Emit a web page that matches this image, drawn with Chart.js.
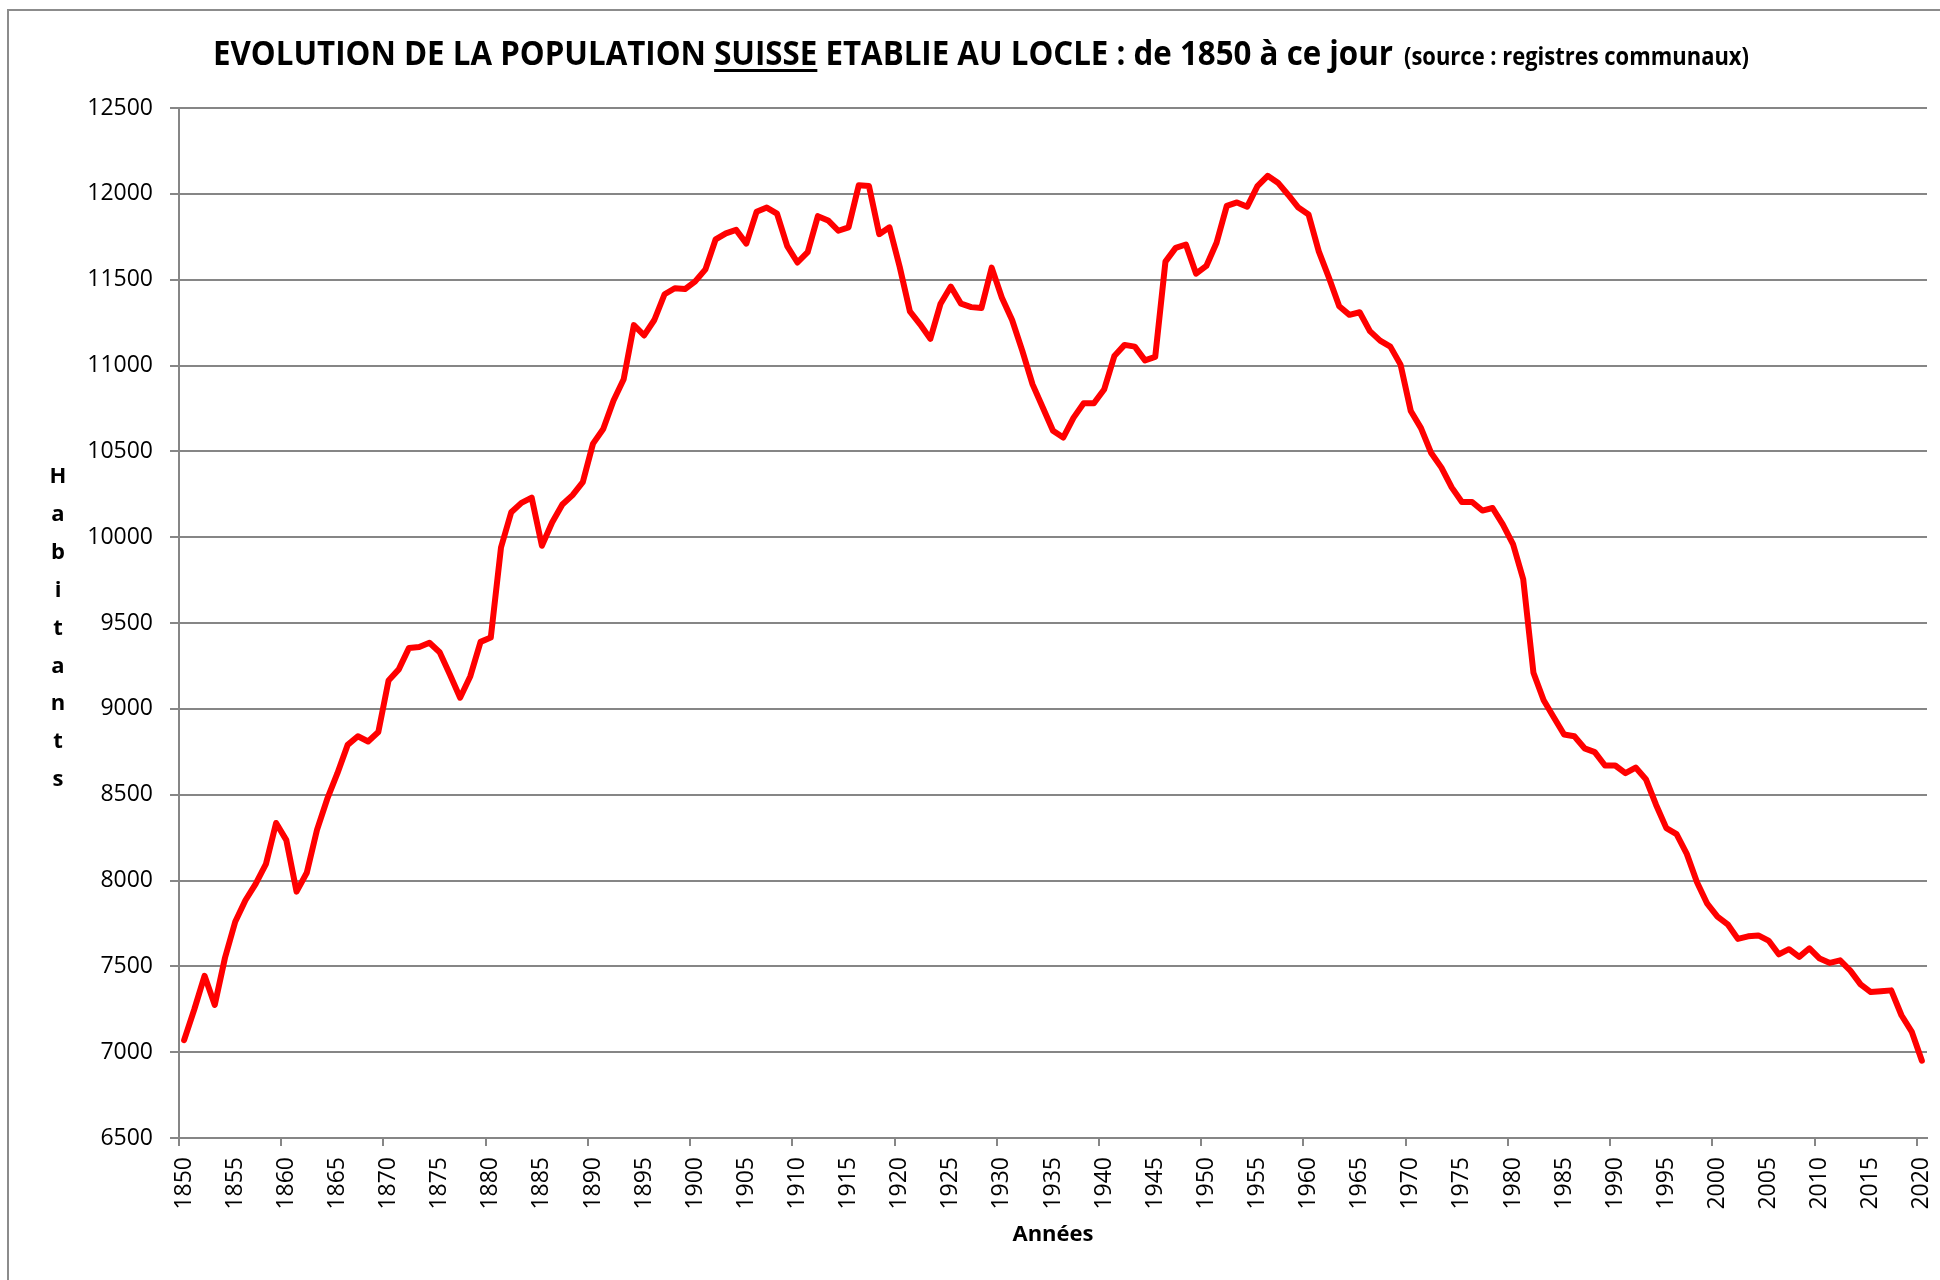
<!DOCTYPE html>
<html>
<head>
<meta charset="utf-8">
<title>Population suisse au Locle</title>
<script src="https://cdn.jsdelivr.net/npm/chart.js@4.4.1/dist/chart.umd.min.js"></script>
<style>
    html, body { margin: 0; padding: 0; background: #fff; overflow: hidden; }
    #wrap { position: relative; width: 1940px; height: 1280px; overflow: hidden; }
    #frame { position: absolute; left: 7px; top: 9px; width: 2100px; height: 1400px;
             border-left: 2px solid #8c8c8c; border-top: 2px solid #8c8c8c; }
    #population { position: absolute; left: 0; top: 0; }
    .titre { position: absolute; white-space: nowrap; font-family: "Open Sans", sans-serif;
             font-weight: bold; color: #000; line-height: 40px; transform-origin: 0 0; }
    #titre-main { left: 213px; top: 32px; font-size: 34px; }
    #titre-src { left: 1404px; top: 35px; font-size: 25px; }
    #titre-main u { text-decoration-thickness: 3px; text-underline-offset: 4px; }
    #habitants { position: absolute; left: 38px; top: 456px; width: 40px; text-align: center;
                 font-family: "Open Sans", sans-serif; font-weight: bold; font-size: 22px;
                 line-height: 37.9px; color: #000; }
</style>
</head>
<body>
<div id="wrap">
    <div id="frame"></div>
    <canvas id="population" width="1940" height="1280"></canvas>
    <div class="titre" id="titre-main">EVOLUTION DE LA POPULATION <u>SUISSE</u> ETABLIE AU LOCLE : de 1850 à ce jour</div>
    <div class="titre" id="titre-src">(source : registres communaux)</div>
    <div id="habitants">H<br>a<br>b<br>i<br>t<br>a<br>n<br>t<br>s</div>
</div>
<script>
    // annees 1850 -> 2020, une valeur par annee
    const firstYear = 1850
    const lastYear = 2020
    const years = Array.from({length: lastYear - firstYear + 1}, (_, i) => String(firstYear + i))

    const habitants = [
        7070, 7250, 7445, 7275, 7550, 7760, 7885, 7980, 8095, 8335,       // 1850
        8235, 7935, 8045, 8295, 8475, 8625, 8790, 8840, 8810, 8865,       // 1860
        9165, 9230, 9355, 9360, 9385, 9330, 9200, 9065, 9190, 9390,       // 1870
        9415, 9940, 10145, 10200, 10230, 9950, 10085, 10190, 10245, 10320, // 1880
        10545, 10630, 10795, 10920, 11235, 11175, 11265, 11415, 11450, 11445, // 1890
        11490, 11560, 11735, 11770, 11790, 11710, 11895, 11920, 11885, 11695, // 1900
        11600, 11660, 11870, 11845, 11785, 11805, 12050, 12045, 11765, 11805, // 1910
        11575, 11315, 11240, 11155, 11360, 11460, 11360, 11340, 11335, 11570, // 1920
        11395, 11265, 11085, 10890, 10755, 10620, 10580, 10695, 10780, 10780, // 1930
        10860, 11055, 11120, 11110, 11030, 11050, 11605, 11685, 11705, 11535, // 1940
        11580, 11715, 11930, 11950, 11925, 12045, 12105, 12065, 11995, 11920, // 1950
        11880, 11665, 11510, 11345, 11295, 11310, 11200, 11145, 11110, 11005, // 1960
        10735, 10635, 10490, 10405, 10290, 10205, 10205, 10155, 10170, 10075, // 1970
        9960, 9755, 9210, 9050, 8950, 8850, 8840, 8770, 8748, 8670,       // 1980
        8670, 8625, 8658, 8590, 8440, 8305, 8270, 8155, 7990, 7865,       // 1990
        7790, 7745, 7660, 7675, 7680, 7650, 7570, 7600, 7555, 7605,       // 2000
        7545, 7520, 7535, 7475, 7395, 7350, 7355, 7360, 7215, 7120,       // 2010
        6950                                                              // 2020
    ]

    const yMin = 6500
    const yMax = 12500
    const yStep = 500

    const gris = '#868686'
    const police = '"Open Sans", sans-serif'

    const data = {
        labels: years,
        datasets: [{
            label: 'Habitants',
            data: habitants,
            borderColor: '#ff0000',
            backgroundColor: '#ff0000',
            borderWidth: 6,
            pointRadius: 0,
            tension: 0,
            borderJoinStyle: 'round',
            borderCapStyle: 'round',
            fill: false
        }]
    }

    const config = {
        type: 'line',
        data: data,
        options: {
            responsive: false,
            animation: false,
            devicePixelRatio: 1,
            layout: { padding: { left: 0, right: 13, top: 108, bottom: 0 } },
            plugins: {
                legend: { display: false },
                title: { display: false },
                tooltip: { enabled: false }
            },
            scales: {
                x: {
                    type: 'category',
                    offset: true,
                    grid: {
                        display: true,
                        offset: true,
                        drawOnChartArea: false,
                        drawTicks: true,
                        tickLength: 8,
                        lineWidth: 2,
                        color: (ctx) => {
                            if (ctx.index === undefined || ctx.index >= years.length) return 'rgba(0,0,0,0)'
                            return Number(years[ctx.index]) % 10 === 0 ? gris : 'rgba(0,0,0,0)'
                        }
                    },
                    border: { display: true, color: gris, width: 2 },
                    ticks: {
                        autoSkip: false,
                        maxRotation: 90,
                        minRotation: 90,
                        padding: 11,
                        color: '#000',
                        font: { family: police, size: 23 },
                        callback: function (value) {
                            const y = Number(this.getLabelForValue(value))
                            return y % 5 === 0 ? String(y) : ''
                        }
                    },
                    title: {
                        display: true,
                        text: 'Années',
                        color: '#000',
                        font: { family: police, size: 22, weight: 'bold' },
                        padding: { top: 0, bottom: 32 }
                    },
                    afterFit: (scale) => {
                        scale.height = 142
                        scale.paddingLeft = 0
                        scale.paddingRight = 0
                    }
                },
                y: {
                    min: yMin,
                    max: yMax,
                    grid: { color: gris, lineWidth: 2, tickLength: 9, drawTicks: true },
                    border: { display: true, color: gris, width: 2 },
                    ticks: {
                        stepSize: yStep,
                        padding: 17,
                        color: '#000',
                        font: { family: police, size: 23 },
                        callback: (value) => String(value)
                    },
                    afterFit: (scale) => { scale.width = 179 }
                }
            }
        }
    }

    const myChart = new Chart(document.getElementById('population'), config)

    // ajuste la largeur des deux parties du titre sur celles de l'original
    function fitWidth(id, target) {
        const el = document.getElementById(id)
        const w = el.getBoundingClientRect().width
        el.style.transform = 'scaleX(' + (target / w) + ')'
    }
    fitWidth('titre-main', 1180)
    fitWidth('titre-src', 345)
</script>
</body>
</html>
